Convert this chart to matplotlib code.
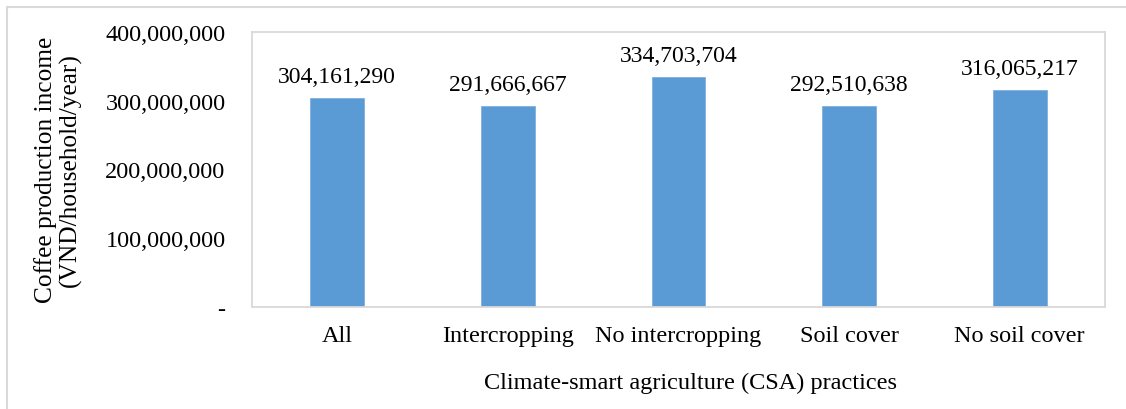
import matplotlib.pyplot as plt
from matplotlib.patches import Rectangle

categories = ["All", "Intercropping", "No intercropping", "Soil cover", "No soil cover"]
income = [304161290, 291666667, 334703704, 292510638, 316065217]
yticks = [0, 100000000, 200000000, 300000000, 400000000]
ytick_labels = ["-", "100,000,000", "200,000,000", "300,000,000", "400,000,000"]

plt.rcParams['font.family'] = ['Liberation Serif', 'DejaVu Serif']
fs = 17.5
W, H = 1126, 410

fig = plt.figure(figsize=(W / 100, H / 100), dpi=100)
ax = fig.add_axes([252 / W, 1 - 308 / H, 853 / W, 275 / H])

x = range(len(categories))
ax.bar(x, income, width=0.316, color="#5B9BD5", edgecolor="#7FB0DE", linewidth=0.6)
for i, v in zip(x, income):
    ax.annotate(f"{v:,}", (i, v), xytext=(0, 11), textcoords="offset pixels",
                ha="center", va="bottom", fontsize=17)

ax.set_xlim(-0.5, len(categories) - 0.5)
ax.set_ylim(0, 400000000)
ax.set_xticks(list(x))
ax.set_xticklabels(categories, fontsize=fs)
ax.set_yticks(yticks)
ax.set_yticklabels(ytick_labels, fontsize=fs)
ax.tick_params(axis="x", length=0, pad=13)
ax.tick_params(axis="y", length=0, pad=19)
for s in ax.spines.values():
    s.set_color("#D9D9D9")
    s.set_linewidth(1.3)

fig.text(58 / W, 1 - 170 / H, "Coffee production income\n(VND/household/year)",
         rotation=90, ha="center", va="center", fontsize=18.3, linespacing=1.12)
fig.text(690 / W, 1 - 383 / H, "Climate-smart agriculture (CSA) practices",
         ha="center", va="center", fontsize=fs)

fig.patches.append(Rectangle((7 / W, -0.1), 1.2, 1 - 8 / H + 0.1, transform=fig.transFigure,
                             fill=False, edgecolor="#D9D9D9", linewidth=1.5, clip_on=False))

fig.savefig("out.png", dpi=100)
